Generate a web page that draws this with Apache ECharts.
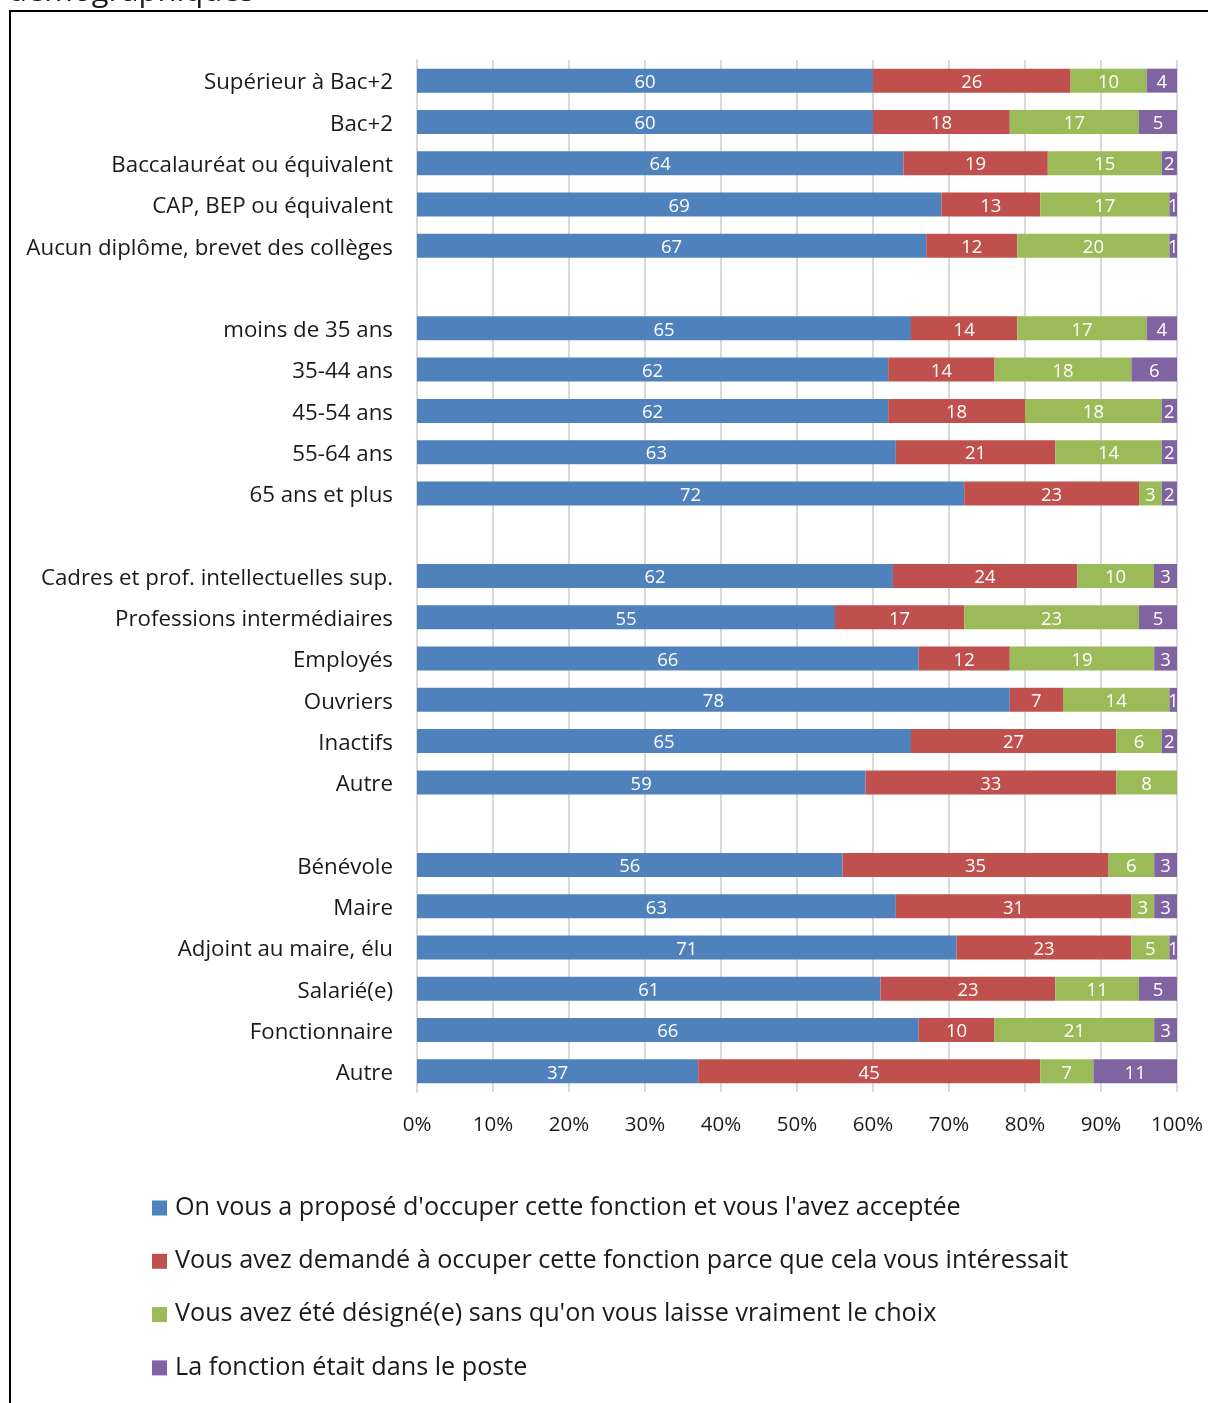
<!DOCTYPE html>
<html>
<head>
<meta charset="utf-8">
<script src="https://cdn.jsdelivr.net/npm/echarts@6/dist/echarts.min.js"></script>
<style>
html,body{margin:0;padding:0;background:#fff;}
#chart{width:1208px;height:1403px;}
</style>
</head>
<body>
<div id="chart"></div>
<script>
// Categories (null = spacer row between groups)
const categories = [
  'Supérieur à Bac+2', 'Bac+2', 'Baccalauréat ou équivalent', 'CAP, BEP ou équivalent', 'Aucun diplôme, brevet des collèges',
  null,
  'moins de 35 ans', '35-44 ans', '45-54 ans', '55-64 ans', '65 ans et plus',
  null,
  'Cadres et prof. intellectuelles sup.', 'Professions intermédiaires', 'Employés', 'Ouvriers', 'Inactifs', 'Autre',
  null,
  'Bénévole', 'Maire', 'Adjoint au maire, élu', 'Salarié(e)', 'Fonctionnaire', 'Autre'
];
const seriesNames = [
  "On vous a proposé d'occuper cette fonction et vous l'avez acceptée",
  "Vous avez demandé à occuper cette fonction parce que cela vous intéressait",
  "Vous avez été désigné(e) sans qu'on vous laisse vraiment le choix",
  "La fonction était dans le poste"
];
const proposed  = [60, 60, 64, 69, 67, null, 65, 62, 62, 63, 72, null, 62, 55, 66, 78, 65, 59, null, 56, 63, 71, 61, 66, 37];
const requested = [26, 18, 19, 13, 12, null, 14, 14, 18, 21, 23, null, 24, 17, 12, 7, 27, 33, null, 35, 31, 23, 23, 10, 45];
const designated= [10, 17, 15, 17, 20, null, 17, 18, 18, 14, 3, null, 10, 23, 19, 14, 6, 8, null, 6, 3, 5, 11, 21, 7];
const inPost    = [4, 5, 2, 1, 1, null, 4, 6, 2, 2, 2, null, 3, 5, 3, 1, 2, 0, null, 3, 3, 1, 5, 3, 11];
const xTicks = ['0%', '10%', '20%', '30%', '40%', '50%', '60%', '70%', '80%', '90%', '100%'];

const colors = ['#4F81BD', '#C0504D', '#9BBB59', '#8064A2'];
const allSeries = [proposed, requested, designated, inPost];
const totals = categories.map((c, i) => allSeries.reduce((s, arr) => s + (arr[i] || 0), 0));

const FONT = '"Open Sans", "Noto Sans", sans-serif';

const chart = echarts.init(document.getElementById('chart'), null, {renderer: 'canvas'});
chart.setOption({
  animation: false,
  backgroundColor: '#fff',
  grid: {left: 417, right: 31, top: 60, bottom: 311, containLabel: false},
  xAxis: {
    type: 'value', min: 0, max: 100, interval: 10,
    axisLine: {show: false}, axisTick: {show: false},
    splitLine: {show: true, lineStyle: {color: '#d9d9d9', width: 2}},
    axisLabel: {
      formatter: (v) => xTicks[Math.round(v / 10)],
      fontFamily: FONT, fontSize: 20.5, color: '#1a1a1a', margin: 23
    }
  },
  yAxis: {
    type: 'category', inverse: true,
    data: categories.map((c, i) => 'c' + i),
    axisLine: {show: true, lineStyle: {color: '#d9d9d9', width: 2}},
    axisTick: {show: false},
    axisLabel: {
      formatter: (v, i) => categories[i] ? '{a|' + categories[i] + '}' : '',
      fontFamily: FONT, fontSize: 22.3, color: '#1a1a1a', margin: 24, interval: 0,
      rich: {a: {fontFamily: FONT, fontSize: 22.3, color: '#1a1a1a', padding: [5, 0, 0, 0]}}
    }
  },
  legend: {show: false},
  series: allSeries.map((arr, s) => ({
    name: seriesNames[s],
    type: 'bar', stack: 'total', barWidth: 24,
    itemStyle: {color: colors[s]},
    data: arr.map((v, i) => (v === null || v === 0) ? null : {value: v / totals[i] * 100, raw: v}),
    label: {
      show: true, position: 'inside', color: '#fff',
      fontFamily: FONT, fontSize: 18.5, offset: [0, 2],
      formatter: (p) => p.data ? String(p.data.raw) : ''
    }
  })),
  graphic: [
    {type: 'rect', shape: {x: 10, y: 11, width: 1300, height: 1500}, style: {fill: 'none', stroke: '#000', lineWidth: 2}, silent: true},
    {type: 'text', left: 8, top: -23, style: {text: 'démographiques', font: '31px ' + FONT, fill: '#1a1a1a'}},
  ].concat(seriesNames.map((n, s) => ({
    type: 'group', left: 152, top: 1195 + s * 53.3,
    children: [
      {type: 'rect', shape: {x: 0, y: 2, width: 15, height: 15}, style: {fill: colors[s]}},
      {type: 'text', x: 23, y: 9, style: {text: n, font: '25.2px ' + FONT, fill: '#1a1a1a', verticalAlign: 'middle'}}
    ]
  })))
});
</script>
</body>
</html>
